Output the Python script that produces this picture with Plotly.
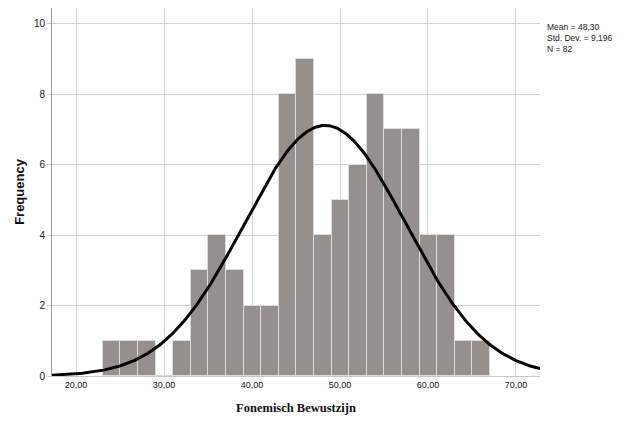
import numpy as np
import plotly.graph_objects as go

# Data
bin_start = 23.05
bin_width = 2.0
counts = [1, 1, 1, 0, 1, 3, 4, 3, 2, 2, 8, 9, 4, 5, 6, 8, 7, 7, 4, 4, 1, 1]
mean = 48.30
std = 9.196
n = 82
x_tickvals = [20, 30, 40, 50, 60, 70]
x_ticktext = ["20,00", "30,00", "40,00", "50,00", "60,00", "70,00"]
y_tickvals = [0, 2, 4, 6, 8, 10]
stats_text = ["Mean = 48,30", "Std. Dev. = 9,196", "N = 82"]

x_range = [17.27, 72.73]
y_range = [0, 10.45]

centers = [bin_start + bin_width * (i + 0.5) for i in range(len(counts))]

xs = np.linspace(x_range[0], x_range[1], 400)
ys = n * bin_width / (std * np.sqrt(2 * np.pi)) * np.exp(-0.5 * ((xs - mean) / std) ** 2)

fig = go.Figure()
fig.add_trace(go.Bar(
    x=centers, y=counts, width=bin_width,
    marker=dict(color="#958f8e", line=dict(color="#dcdcdc", width=1)),
    hoverinfo="skip",
))
fig.add_trace(go.Scatter(
    x=xs, y=ys, mode="lines",
    line=dict(color="black", width=3),
    hoverinfo="skip",
))

sans = "Liberation Sans, Arial, sans-serif"

fig.update_layout(
    width=625, height=415,
    margin=dict(l=44, r=93, t=0, b=47),
    paper_bgcolor="white", plot_bgcolor="white",
    showlegend=False,
    bargap=0,
    xaxis=dict(
        range=x_range, tickvals=x_tickvals, ticktext=x_ticktext,
        showgrid=True, gridcolor="#d3d3d3", gridwidth=1,
        zeroline=False, showline=True, linecolor="#c8c8c8", linewidth=1,
        ticks="", tickfont=dict(family=sans, size=9, color="#222"),
        automargin=False,
        title=dict(text="<b>Fonemisch Bewustzijn</b>",
                   font=dict(family="Liberation Serif, Times New Roman, serif", size=12.5, color="#111"),
                   standoff=14),
    ),
    yaxis=dict(
        range=y_range, tickvals=y_tickvals,
        showgrid=True, gridcolor="#d3d3d3", gridwidth=1,
        zeroline=False, showline=True, linecolor="#9a9a9a", linewidth=1,
        ticks="outside", ticklen=4, tickcolor="#c8c8c8",
        tickfont=dict(family=sans, size=10, color="#222"),
        automargin=False,
        title=dict(text="<b>Frequency</b>",
                   font=dict(family=sans, size=13, color="#111"),
                   standoff=6),
    ),
)

fig.add_annotation(
    text="<br>".join(stats_text), xref="paper", yref="paper",
    x=1.01, xanchor="left", align="left",
    y=(376 - 38) / 368.0, yanchor="middle",
    showarrow=False,
    font=dict(family=sans, size=8.5, color="#222"),
)

fig.write_html("out.html")
